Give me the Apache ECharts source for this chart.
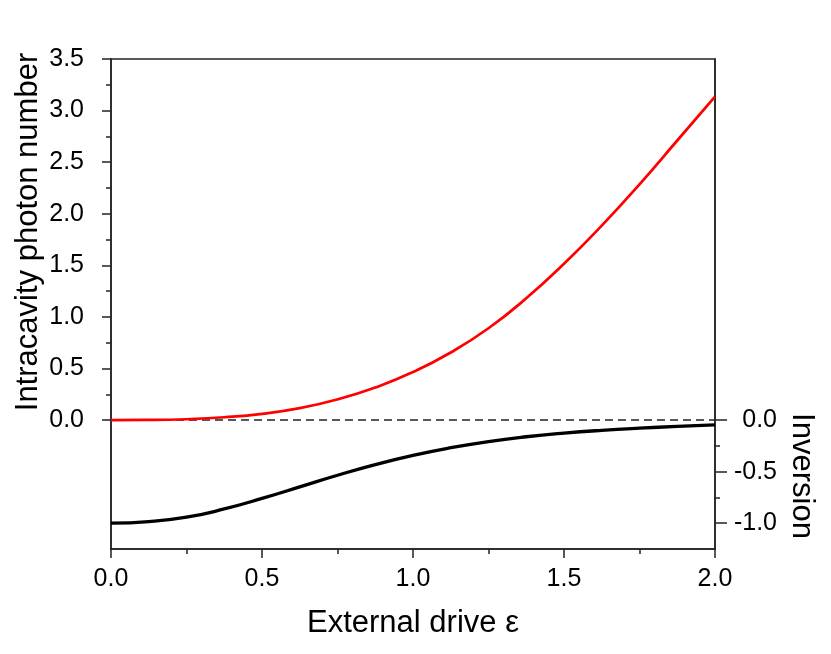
<!DOCTYPE html>
<html>
<head>
<meta charset="utf-8">
<script src="https://cdn.jsdelivr.net/npm/echarts@6/dist/echarts.min.js"></script>
<style>html,body{margin:0;padding:0;background:#fff;}#c{width:831px;height:654px;}</style>
</head>
<body>
<div id="c"></div>
<script>
// Data
var epsilon = [0, 0.125, 0.25, 0.375, 0.5, 0.625, 0.75, 0.875, 1.0, 1.125, 1.25, 1.375, 1.5, 1.625, 1.75, 1.875, 2.0];
var photonNumber = [0, 0.001, 0.008, 0.027, 0.06, 0.115, 0.2, 0.315, 0.465, 0.655, 0.89, 1.18, 1.515, 1.885, 2.285, 2.71, 3.135];
var inversion = [-1.0, -0.985, -0.942, -0.862, -0.76, -0.648, -0.535, -0.432, -0.342, -0.268, -0.208, -0.162, -0.127, -0.1, -0.079, -0.062, -0.047];
var xTicks = [0, 0.5, 1.0, 1.5, 2.0];
var leftTicks = [0, 0.5, 1.0, 1.5, 2.0, 2.5, 3.0, 3.5];
var leftMinor = [0.25, 0.75, 1.25, 1.75, 2.25, 2.75, 3.25];
var rightTicks = [-1.0, -0.5, 0.0];
var rightMinor = [-0.75, -0.25];
var xTitle = 'External drive \u03b5';
var leftTitle = 'Intracavity photon number';
var rightTitle = 'Inversion';

var FONT = '"Liberation Sans", Arial, sans-serif';
var AX = '#222';
var chart = echarts.init(document.getElementById('c'), null, {renderer: 'canvas'});
function pairs(xs, ys) { return xs.map(function (x, i) { return [x, ys[i]]; }); }
function fmt(v) { return Number(v).toFixed(1); }
var yMin = -1.25, yMax = 3.5;

chart.setOption({
  animation: false,
  backgroundColor: '#fff',
  grid: {left: 111, right: 116, top: 59, bottom: 105, show: true, borderColor: AX, borderWidth: 1.5, backgroundColor: 'transparent'},
  xAxis: {
    type: 'value', min: 0, max: 2, interval: 0.5,
    name: xTitle, nameLocation: 'middle', nameGap: 59,
    nameTextStyle: {fontFamily: FONT, fontSize: 31, color: '#000'},
    axisLine: {show: true, onZero: false, lineStyle: {color: AX, width: 1.5}},
    axisTick: {show: true, inside: false, length: 9, lineStyle: {color: AX, width: 1.5}},
    minorTick: {show: true, splitNumber: 2, length: 5, lineStyle: {color: AX, width: 1.5}},
    axisLabel: {fontFamily: FONT, fontSize: 25, color: '#000', margin: 18, formatter: fmt},
    splitLine: {show: false}
  },
  yAxis: [
    {
      type: 'value', position: 'left', min: yMin, max: yMax, interval: 0.25,
      axisLine: {show: true, onZero: false, lineStyle: {color: AX, width: 1.5}},
      axisTick: {show: true, inside: false, length: 9, customValues: leftTicks, lineStyle: {color: AX, width: 1.5}},
      axisLabel: {fontFamily: FONT, fontSize: 25, color: '#000', margin: 27, customValues: leftTicks, formatter: fmt},
      splitLine: {show: false}
    },
    {
      type: 'value', position: 'left', min: yMin, max: yMax, interval: 0.25,
      axisLine: {show: false, onZero: false},
      axisTick: {show: true, inside: false, length: 5, customValues: leftMinor, lineStyle: {color: AX, width: 1.5}},
      axisLabel: {show: false},
      splitLine: {show: false}
    },
    {
      type: 'value', position: 'right', min: yMin, max: yMax, interval: 0.25,
      axisLine: {show: true, onZero: false, lineStyle: {color: AX, width: 1.5}},
      axisTick: {show: true, inside: false, length: 12, customValues: rightTicks, lineStyle: {color: AX, width: 1.5}},
      axisLabel: {fontFamily: FONT, fontSize: 25, color: '#000', margin: 62, align: 'right', customValues: rightTicks, formatter: fmt},
      splitLine: {show: false}
    },
    {
      type: 'value', position: 'right', min: yMin, max: yMax, interval: 0.25,
      axisLine: {show: false, onZero: false},
      axisTick: {show: true, inside: false, length: 5, customValues: rightMinor, lineStyle: {color: AX, width: 1.5}},
      axisLabel: {show: false},
      splitLine: {show: false}
    }
  ],
  graphic: [
    {type: 'text', x: 28, y: 232, rotation: Math.PI / 2,
     style: {text: leftTitle, font: '31px ' + FONT, fill: '#000', align: 'center', verticalAlign: 'middle'}},
    {type: 'text', x: 802, y: 476, rotation: -Math.PI / 2,
     style: {text: rightTitle, font: '31px ' + FONT, fill: '#000', align: 'center', verticalAlign: 'middle'}}
  ],
  series: [
    {
      type: 'line', name: 'photon', yAxisIndex: 0, data: pairs(epsilon, photonNumber),
      smooth: 0.5, showSymbol: false, symbol: 'none',
      lineStyle: {color: '#ff0000', width: 2.7}, z: 3,
      markLine: {silent: true, symbol: 'none', label: {show: false},
        lineStyle: {color: AX, type: [8, 5], width: 1.5}, data: [{yAxis: 0}], z: 2}
    },
    {
      type: 'line', name: 'inversion', yAxisIndex: 2, data: pairs(epsilon, inversion),
      smooth: 0.5, showSymbol: false, symbol: 'none',
      lineStyle: {color: '#000', width: 3.3}, z: 3
    }
  ]
});
</script>
</body>
</html>
